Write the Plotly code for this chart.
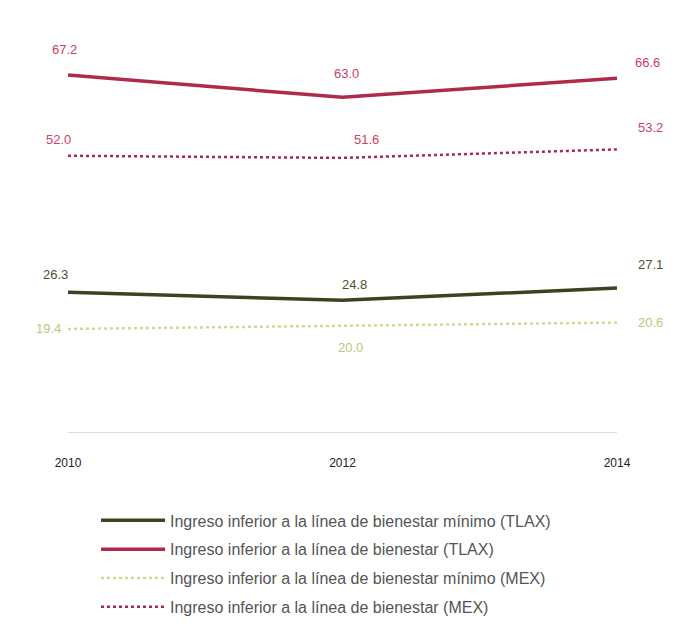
import plotly.graph_objects as go

years = ["2010", "2012", "2014"]
tlax_bienestar = [67.2, 63.0, 66.6]
mex_bienestar = [52.0, 51.6, 53.2]
tlax_minimo = [26.3, 24.8, 27.1]
mex_minimo = [19.4, 20.0, 20.6]

names = [
    "Ingreso inferior a la línea de bienestar mínimo (TLAX)",
    "Ingreso inferior a la línea de bienestar (TLAX)",
    "Ingreso inferior a la línea de bienestar mínimo (MEX)",
    "Ingreso inferior a la línea de bienestar (MEX)",
]

x = [0, 1, 2]
fig = go.Figure()

def add(vals, name, color, dash, width, tcolor, offsets, group):
    fig.add_trace(go.Scatter(
        x=x, y=vals, name=name, mode="lines",
        line=dict(color=color, width=width, dash=dash),
        cliponaxis=False, legendgroup=group,
    ))
    for xi, v, (dx, dy) in zip(x, vals, offsets):
        fig.add_annotation(x=xi, y=v, text=f"{v:.1f}", showarrow=False,
                           xshift=dx, yshift=dy,
                           font=dict(color=tcolor, size=13, family="Liberation Sans"))

add(tlax_minimo, names[0], "#3a4420", "solid", 3.5, "#4a5030",
    [(-13, 18), (12, 16), (33, 24)], "a")
add(tlax_bienestar, names[1], "#b02a4a", "solid", 3.5, "#c8405e",
    [(-4, 26), (4, 24), (30, 16)], "b")
add(mex_minimo, names[2], "#cfd98f", "dot", 2.5, "#bcc67c",
    [(-20, 0), (8, -22), (33, 0)], "c")
add(mex_bienestar, names[3], "#a82848", "dot", 2.5, "#d04060",
    [(-10, 16), (24, 18), (33, 22)], "d")

fig.update_layout(
    width=678, height=624,
    margin=dict(l=60, r=69, t=7, b=200, autoexpand=False),
    paper_bgcolor="white", plot_bgcolor="white",
    font=dict(family="Liberation Sans", size=11, color="#333"),
    xaxis=dict(tickvals=x, ticktext=years, range=[0, 2], showgrid=False,
               zeroline=False, showline=True, linecolor="#dddddd", linewidth=1,
               ticks="", ticklabelstandoff=20, automargin=False,
               tickfont=dict(size=12, color="#222", family="Liberation Sans")),
    yaxis=dict(range=[0, 78.5], visible=False, automargin=False),
    showlegend=True,
    legend=dict(orientation="v", x=0.47, xanchor="center",
                yref="container", y=0.206, yanchor="top",
                font=dict(size=16, color="#555"), tracegroupgap=5,
                itemwidth=64),
)

fig.write_html("out.html")
